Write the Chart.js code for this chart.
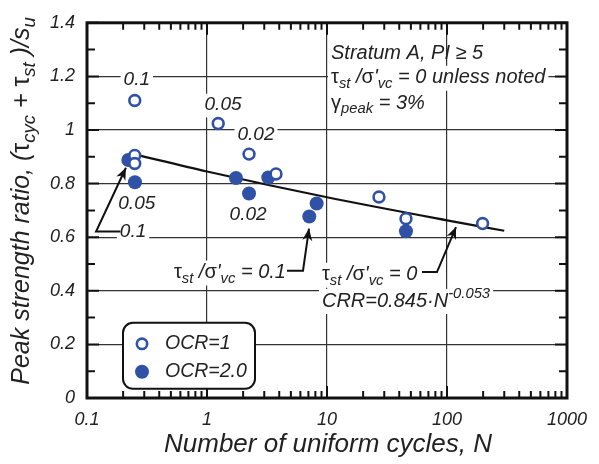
<!DOCTYPE html>
<html>
<head>
<meta charset="utf-8">
<script src="https://cdn.jsdelivr.net/npm/chart.js@4/dist/chart.umd.min.js"></script>
<style>
  html, body { margin: 0; padding: 0; background: #fff; }
  canvas { display: block; }
</style>
</head>
<body>
<canvas id="chart" width="599" height="464"></canvas>
<script>
// data
const ocr1N = [0.25, 0.25, 0.25, 1.24, 2.24, 3.76, 27.1, 45.5, 198];
const ocr1R = [1.11, 0.905, 0.875, 1.024, 0.91, 0.836, 0.75, 0.669, 0.651];
const ocr2N = [0.221, 0.251, 1.745, 2.24, 3.24, 7.12, 8.2, 45.5];
const ocr2R = [0.888, 0.805, 0.821, 0.763, 0.823, 0.677, 0.726, 0.622];
const fitN = [0.25, 1, 10, 100, 300];
const fitR = [0.909, 0.845, 0.749, 0.663, 0.624];
const xTicks = [0.1, 1, 10, 100, 1000];
const yTicks = [0, 0.2, 0.4, 0.6, 0.8, 1, 1.2, 1.4];

const BLUE = '#2f52a6';
const INK = '#222';
const FAM = '"Liberation Sans", Arial, sans-serif';

// draw a run of text pieces: g = upright greek, sub / sup = small lowered / raised
function richText(ctx, segs, x, y, size, align, bg) {
    const fontOf = s => {
        const sz = (s.s === 'sub' || s.s === 'sup') ? size * 0.74 : size;
        return (s.s === 'g' ? '' : 'italic ') + sz + 'px ' + FAM;
    };
    let w = 0;
    segs.forEach(s => { ctx.font = fontOf(s); s.w = ctx.measureText(s.t).width; w += s.w; });
    let cx = align === 'center' ? x - w / 2 : (align === 'right' ? x - w : x);
    if (bg) {
        ctx.fillStyle = '#fff';
        ctx.fillRect(cx - 3, y - size * 0.6, w + 6, size * 1.25);
    }
    ctx.fillStyle = INK;
    ctx.textBaseline = 'middle';
    ctx.textAlign = 'left';
    segs.forEach(s => {
        ctx.font = fontOf(s);
        let dy = 0;
        if (s.s === 'sub') dy = size * 0.3;
        if (s.s === 'sup') dy = -size * 0.36;
        ctx.fillText(s.t, cx, y + dy);
        cx += s.w;
    });
}

function arrow(ctx, pts) {
    ctx.strokeStyle = '#111';
    ctx.lineWidth = 2;
    ctx.beginPath();
    pts.forEach((p, i) => i ? ctx.lineTo(p[0], p[1]) : ctx.moveTo(p[0], p[1]));
    ctx.stroke();
    const [x1, y1] = pts[pts.length - 1];
    const [x0, y0] = pts[pts.length - 2];
    const a = Math.atan2(y1 - y0, x1 - x0);
    const L = 12, W = 5;
    ctx.fillStyle = '#111';
    ctx.beginPath();
    ctx.moveTo(x1, y1);
    ctx.lineTo(x1 - L * Math.cos(a) + W * Math.sin(a), y1 - L * Math.sin(a) - W * Math.cos(a));
    ctx.lineTo(x1 - L * 0.7 * Math.cos(a), y1 - L * 0.7 * Math.sin(a));
    ctx.lineTo(x1 - L * Math.cos(a) - W * Math.sin(a), y1 - L * Math.sin(a) + W * Math.cos(a));
    ctx.closePath();
    ctx.fill();
}

const tauSigma = [{t: 'τ', s: 'g'}, {t: 'st', s: 'sub'}, {t: ' /'}, {t: 'σ', s: 'g'}, {t: '\''}, {t: 'vc', s: 'sub'}];

const decorations = {
    id: 'decorations',
    beforeDatasetsDraw(chart) {
        const ctx = chart.ctx;
        const xs = chart.scales.x, ys = chart.scales.y;
        const ca = chart.chartArea;
        const P = (n, r) => [xs.getPixelForValue(n), ys.getPixelForValue(r)];
        ctx.save();

        // inward tick marks on all four sides
        ctx.strokeStyle = '#111';
        ctx.lineWidth = 2;
        ctx.beginPath();
        for (let d = 0.1; d < 1000; d *= 10) {
            for (let k = 1; k <= 10; k++) {
                const px = xs.getPixelForValue(d * k);
                const len = (k === 1 || k === 10) ? 12 : 7;
                ctx.moveTo(px, ca.bottom); ctx.lineTo(px, ca.bottom - len);
                ctx.moveTo(px, ca.top); ctx.lineTo(px, ca.top + len);
            }
        }
        for (let i = 0; i <= 14; i++) {
            const py = ys.getPixelForValue(i / 10);
            const len = i % 2 === 0 ? 12 : 8;
            ctx.moveTo(ca.left, py); ctx.lineTo(ca.left + len, py);
            ctx.moveTo(ca.right, py); ctx.lineTo(ca.right - len, py);
        }
        ctx.stroke();

        // notes
        const sz = 20, nz = 19;
        richText(ctx, [{t: 'Stratum A, PI ≥ 5'}], ...P(10.8, 1.287), sz, 'left', false);
        richText(ctx, tauSigma.concat([{t: ' = 0 unless noted'}]), ...P(10.8, 1.195), sz, 'left', true);
        richText(ctx, [{t: 'γ', s: 'g'}, {t: 'peak', s: 'sub'}, {t: ' = 3%'}], ...P(10.8, 1.1), sz, 'left', true);

        richText(ctx, [{t: '0.1'}], ...P(0.26, 1.188), nz, 'center', true);
        richText(ctx, [{t: '0.05'}], ...P(1.36, 1.093), nz, 'center', true);
        richText(ctx, [{t: '0.02'}], ...P(2.56, 0.983), nz, 'center', true);
        richText(ctx, [{t: '0.05'}], ...P(0.26, 0.724), nz, 'center', true);
        richText(ctx, [{t: '0.1'}], ...P(0.242, 0.621), nz, 'center', true);
        richText(ctx, [{t: '0.02'}], ...P(2.2, 0.683), nz, 'center', true);

        richText(ctx, tauSigma.concat([{t: ' = 0.1'}]), ...P(4.55, 0.468), sz, 'right', true);
        richText(ctx, tauSigma.concat([{t: ' = 0'}]), ...P(9.08, 0.46), sz, 'left', true);
        richText(ctx, [{t: 'CRR=0.845·N'}, {t: '-0.053', s: 'sup'}], ...P(9.08, 0.362), sz, 'left', true);

        arrow(ctx, [P(0.19, 0.621), P(0.119, 0.621), P(0.211, 0.859)]);
        arrow(ctx, [P(4.64, 0.475), P(6.31, 0.475), P(7.08, 0.632)]);
        arrow(ctx, [P(61.9, 0.47), P(82.5, 0.47), P(118.9, 0.638)]);

        // legend box
        const lx = ca.left + 36, ly = ca.top + 300, lw = 132, lh = 66;
        ctx.fillStyle = '#fff';
        ctx.strokeStyle = '#111';
        ctx.lineWidth = 2;
        ctx.beginPath();
        ctx.roundRect(lx, ly, lw, lh, 10);
        ctx.fill();
        ctx.stroke();
        ctx.beginPath();
        ctx.arc(lx + 19, ly + 21, 5.2, 0, Math.PI * 2);
        ctx.strokeStyle = BLUE;
        ctx.lineWidth = 2.6;
        ctx.stroke();
        ctx.beginPath();
        ctx.arc(lx + 19, ly + 49, 7, 0, Math.PI * 2);
        ctx.fillStyle = BLUE;
        ctx.fill();
        richText(ctx, [{t: 'OCR=1'}], lx + 42, ly + 21, 19.5, 'left', false);
        richText(ctx, [{t: 'OCR=2.0'}], lx + 42, ly + 49, 19.5, 'left', false);

        // frame
        ctx.strokeStyle = '#111';
        ctx.lineWidth = 3;
        ctx.strokeRect(ca.left, ca.top, ca.right - ca.left, ca.bottom - ca.top);
        ctx.restore();
    },
    afterDraw(chart) {
        const ctx = chart.ctx;
        ctx.save();
        richText(ctx, [{t: 'Number of uniform cycles, N'}], 328, 445, 26, 'center', false);
        ctx.translate(22, 201);
        ctx.rotate(-Math.PI / 2);
        richText(ctx, [{t: 'Peak strength ratio, ('}, {t: 'τ', s: 'g'}, {t: 'cyc', s: 'sub'},
            {t: ' + '}, {t: 'τ', s: 'g'}, {t: 'st', s: 'sub'}, {t: ' )/s'}, {t: 'u', s: 'sub'}],
            0, 0, 25, 'center', false);
        ctx.restore();
    }
};

const ocr1 = ocr1N.map((n, i) => ({x: n, y: ocr1R[i]}));
const ocr2 = ocr2N.map((n, i) => ({x: n, y: ocr2R[i]}));
const fit = fitN.map((n, i) => ({x: n, y: fitR[i]}));

new Chart(document.getElementById('chart'), {
    type: 'scatter',
    data: {
        datasets: [
            {label: 'OCR=1', data: ocr1, pointRadius: 5.4, pointBorderWidth: 2.6,
             pointBorderColor: BLUE, pointBackgroundColor: '#fff', order: 0},
            {label: 'OCR=2.0', data: ocr2, pointRadius: 7, pointBorderWidth: 0,
             pointBackgroundColor: BLUE, pointBorderColor: BLUE, order: 1},
            {label: 'fit', type: 'line', data: fit, showLine: true, pointRadius: 0,
             borderColor: '#111', borderWidth: 2.2, cubicInterpolationMode: 'monotone', order: 2}
        ]
    },
    options: {
        responsive: false,
        devicePixelRatio: 1,
        animation: false,
        layout: {padding: {left: 0, right: 32, top: 15, bottom: 0}},
        plugins: {legend: {display: false}, tooltip: {enabled: false}},
        scales: {
            x: {
                type: 'logarithmic',
                min: 0.1,
                max: 1000,
                afterBuildTicks: s => { s.ticks = xTicks.map(v => ({value: v})); },
                afterFit: s => { s.height = 66; },
                ticks: {
                    autoSkip: false, maxRotation: 0, padding: 11, color: INK,
                    font: {family: FAM, size: 18, style: 'italic'},
                    callback: v => String(v)
                },
                grid: {color: '#333', lineWidth: 1.2, drawTicks: false},
                border: {display: false}
            },
            y: {
                min: 0,
                max: 1.4,
                afterBuildTicks: s => { s.ticks = yTicks.map(v => ({value: v})); },
                afterFit: s => { s.width = 87; },
                ticks: {
                    padding: 12, color: INK,
                    font: {family: FAM, size: 18, style: 'italic'},
                    callback: v => String(+v.toFixed(1))
                },
                grid: {color: '#333', lineWidth: 1.2, drawTicks: false},
                border: {display: false}
            }
        }
    },
    plugins: [decorations]
});
</script>
</body>
</html>
